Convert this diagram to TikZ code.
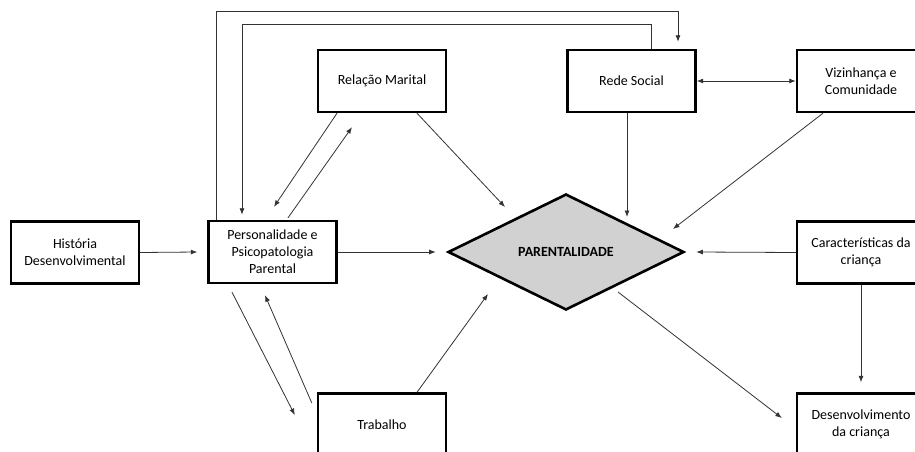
\documentclass[tikz,border=0pt]{standalone}
\usepackage{fontspec}
\setmainfont{Carlito}
\usetikzlibrary{arrows.meta,shapes.geometric,calc}
\begin{document}
\begin{tikzpicture}[x=1pt,y=-1pt,
  box/.style={draw=black,line width=2.4pt,minimum width=128pt,minimum height=62pt,inner sep=2pt,align=center,font=\fontsize{14}{17}\selectfont},
  dia/.style={diamond,draw=black,line width=2.6pt,fill=black!18!white,minimum width=236pt,minimum height=116pt,inner sep=0pt,font=\fontsize{14}{17}\selectfont\bfseries},
  arr/.style={draw=black!80,line width=0.8pt,-{Latex[length=6.5pt,width=5pt]}},
  darr/.style={draw=black!80,line width=0.8pt,{Latex[length=6.5pt,width=5pt]}-{Latex[length=6.5pt,width=5pt]}}]
\useasboundingbox (0,0) rectangle (915,452);
\clip (0,0) rectangle (915,452);
\fill[white] (0,0) rectangle (915,452);
\node[box] (hist) at (75,252.5) {História\\Desenvolvimental};
\node[box] (pers) at (272.5,252) {Personalidade e\\Psicopatologia\\Parental};
\node[box] (rel) at (382,81) {Relação Marital};
\node[box] (rede) at (631.5,81) {Rede Social};
\node[box] (viz) at (861,81) {Vizinhança e\\Comunidade};
\node[box] (car) at (861,252.5) {Características da\\criança};
\node[box] (desen) at (861,424.5) {Desenvolvimento\\da criança};
\node[box] (trab) at (382,424.5) {Trabalho};
\node[dia] (diam) at (566,252) {PARENTALIDADE};
% arrows
\draw[arr] (hist.east) -- ([xshift=-10pt]pers.west);
\draw[arr] (pers.east) -- ([xshift=-11pt]diam.west);
\draw[arr] (car.west) -- ([xshift=11pt]diam.east);
\draw[arr] (car.south) -- ([yshift=10pt]desen.north);
\draw[arr] ($(diam.center)+(52,40)$) -- ($(desen.west)+(-14,-6.5)$);
\draw[arr] ($(trab.north)+(35,0)$) -- ($(diam.center)+(-78,42)$);
\draw[arr] ($(pers.south)+(-40.5,8)$) -- ($(trab.west)+(-22,-9.5)$);
\draw[arr] ($(trab.west)+(-5,-21.5)$) -- ($(pers.south)+(-7.5,11)$);
\draw[arr] ($(rel.south)+(-45,0)$) -- ($(pers.north)+(1.5,-13)$);
\draw[arr] ($(pers.north)+(15.5,-2)$) -- ($(rel.south)+(-30,14)$);
\draw[arr] ($(rel.south)+(35,0)$) -- ($(diam.center)+(-61,-45)$);
\draw[arr] ($(rede.south)+(-4.5,0)$) -- ($(diam.center)+(61,-35)$);
\draw[arr] ($(viz.south)+(-38,0)$) -- ($(diam.center)+(107,-23)$);
\draw[darr] (rede.east) -- (viz.west);
\draw[arr] ($(pers.north)+(-56.5,0)$) -- ++(0,-208) -| ($(rede.north)+(46.5,-7)$);
\draw[arr] ($(rede.north)+(19.5,0)$) -- ++(0,-24) -| ($(pers.north)+(-30.5,-5)$);
\end{tikzpicture}
\end{document}
